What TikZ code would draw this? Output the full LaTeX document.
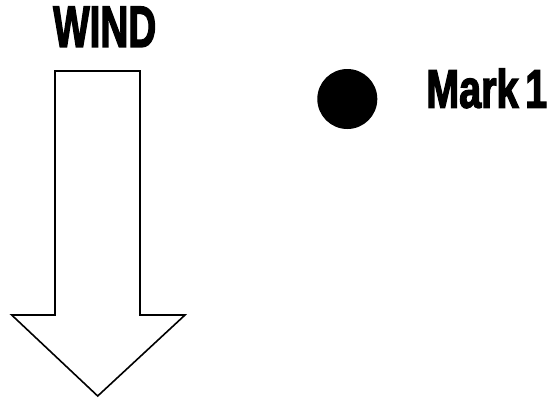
\documentclass[tikz,border=0pt]{standalone}
\usepackage{fontspec}
\usepackage{graphicx}
\setmainfont{Liberation Sans}[BoldFeatures={FakeBold=3}]
\tikzset{
  bigtext/.style={inner sep=0pt, font=\bfseries},
  arrowoutline/.style={draw=black, line width=1.6pt, fill=white, line join=miter}
}
\begin{document}
\begin{tikzpicture}[x=1pt,y=-1pt]
\useasboundingbox (0,0) rectangle (556,397);
\fill[white] (0,0) rectangle (556,397);
% title
\node[bigtext, anchor=south west] (wind) at (53,47) {\resizebox{103pt}{40pt}{WIND}};
% arrow
\draw[arrowoutline] (55,71) -- (140,71) -- (140,315) -- (185,315) -- (97.7,396) -- (11.7,315) -- (55,315) -- cycle;
% mark
\fill[black] (347.3,99) circle (30);
\node[bigtext, anchor=south west] (mark) at (426,108.3) {\resizebox{121pt}{39pt}{Mark\,1}};
\end{tikzpicture}
\end{document}
